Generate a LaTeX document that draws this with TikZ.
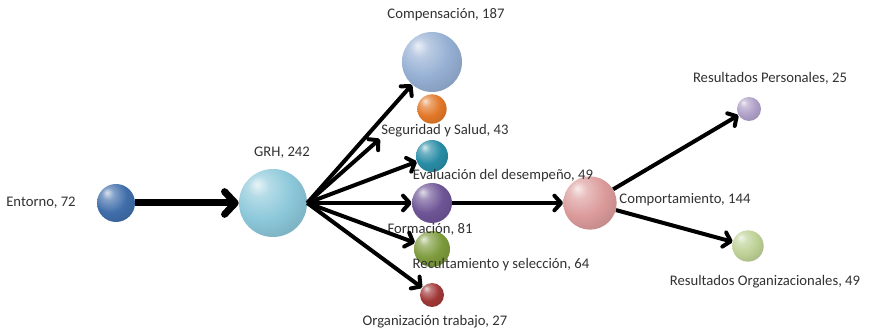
\documentclass[tikz,border=0pt]{standalone}
\usepackage{fontspec}
\setmainfont{Carlito}
\usepackage{tikz}
\usetikzlibrary{
  arrows.meta,
  positioning
}
\definecolor{entornoblue}{RGB}{64,110,170}
\definecolor{grhblue}{RGB}{140,200,218}
\definecolor{compensblue}{RGB}{150,176,212}
\definecolor{segorange}{RGB}{226,120,40}
\definecolor{evalteal}{RGB}{40,140,165}
\definecolor{formpurple}{RGB}{110,85,150}
\definecolor{reclgreen}{RGB}{125,155,60}
\definecolor{orgred}{RGB}{160,55,55}
\definecolor{comportpink}{RGB}{220,155,155}
\definecolor{rplilac}{RGB}{175,160,200}
\definecolor{rogreen}{RGB}{190,210,150}
\definecolor{labelgray}{RGB}{50,50,50}

\colorlet{ballcol}{black}
\pgfdeclareradialshading[ballcol]{sphereshade}{\pgfpoint{-12bp}{14bp}}{%
  color(0bp)=(ballcol!20!white); color(8bp)=(ballcol!65!white);
  color(22bp)=(ballcol); color(42bp)=(ballcol!82!black);
  color(70bp)=(ballcol!55!black)}
\tikzset{sphere color/.code={\colorlet{ballcol}{#1}}}

\begin{document}
\begin{tikzpicture}[
  x=0.75pt, y=-0.75pt,
  sphere/.style={circle, inner sep=0pt, shading=sphereshade, sphere color=#1},
  lbl/.style={inner sep=1pt, font=\fontsize{11}{13}\selectfont, text=labelgray},
  arr/.style={-{Straight Barb[length=5pt,width=11pt,round]}, line width=3pt},
  bigarr/.style={-{Straight Barb[length=8pt,width=17pt,round]}, line width=5.25pt}
]
\path[use as bounding box, fill=white] (0,0) rectangle (869,331);

% spheres
\node[sphere=entornoblue, minimum size=28.5pt] (entorno) at (116,203) {};
\node[sphere=grhblue, minimum size=51pt] (grh) at (273,203) {};
\node[sphere=compensblue, minimum size=45pt] (compens) at (432,62) {};
\node[sphere=segorange, minimum size=22pt] (seg) at (432,109) {};
\node[sphere=evalteal, minimum size=24pt] (eval) at (432,156) {};
\node[sphere=formpurple, minimum size=30pt] (form) at (432,203) {};
\node[sphere=reclgreen, minimum size=27pt] (recl) at (432,249) {};
\node[sphere=orgred, minimum size=18pt] (org) at (432,295) {};
\node[sphere=comportpink, minimum size=40pt] (comport) at (590,203) {};
\node[sphere=rplilac, minimum size=18pt] (rp) at (749,109) {};
\node[sphere=rogreen, minimum size=23.5pt] (ro) at (748,246) {};

% labels
\node[lbl] (entorno_lbl) at (41,203) {Entorno, 72};
\node[lbl] (grh_lbl) at (282,153) {GRH, 242};
\node[lbl] (compens_lbl) at (446,15) {Compensación, 187};
\node[lbl] (seg_lbl) at (445,131) {Seguridad y Salud, 43};
\node[lbl] (eval_lbl) at (503,176) {Evaluación del desempeño, 49};
\node[lbl] (form_lbl) at (430,229) {Formación, 81};
\node[lbl] (recl_lbl) at (501,265) {Recultamiento y selección, 64};
\node[lbl] (org_lbl) at (435,322) {Organización trabajo, 27};
\node[lbl] (comport_lbl) at (685,200) {Comportamiento, 144};
\node[lbl] (rp_lbl) at (770,78) {Resultados Personales, 25};
\node[lbl] (ro_lbl) at (765,282) {Resultados Organizacionales, 49};

% arrows
\draw[bigarr] (entorno) -- (grh);
\draw[arr] (grh.east) -- (compens);
\draw[arr] (grh.east) -- (seg_lbl.south west);
\draw[arr] (grh.east) -- (eval);
\draw[arr] (grh.east) -- (form);
\draw[arr] (grh.east) -- (recl);
\draw[arr] (grh.east) -- (org);
\draw[arr] (form) -- (comport);
\draw[arr] (comport) -- (rp);
\draw[arr] (comport) -- (ro);

\end{tikzpicture}
\end{document}
